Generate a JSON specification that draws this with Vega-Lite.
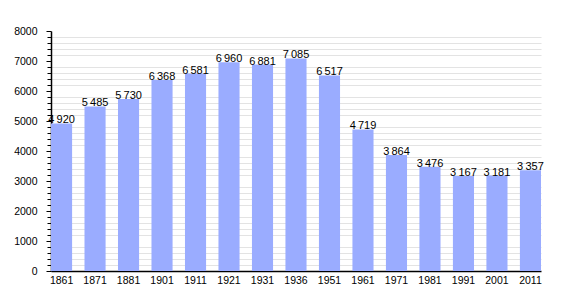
{
  "$schema": "https://vega.github.io/schema/vega-lite/v6.json",
  "autosize": "none",
  "width": 490,
  "height": 240,
  "padding": {"left": 51, "top": 31, "right": 29, "bottom": 29},
  "background": "white",
  "config": {
    "font": "Liberation Sans",
    "view": {"stroke": null},
    "locale": {"number": {"decimal": ",", "thousands": "\u2009", "grouping": [3], "currency": ["", ""]}}
  },
  "data": {"values": [
    {"year": "1861", "pop": 4920},
    {"year": "1871", "pop": 5485},
    {"year": "1881", "pop": 5730},
    {"year": "1901", "pop": 6368},
    {"year": "1911", "pop": 6581},
    {"year": "1921", "pop": 6960},
    {"year": "1931", "pop": 6881},
    {"year": "1936", "pop": 7085},
    {"year": "1951", "pop": 6517},
    {"year": "1961", "pop": 4719},
    {"year": "1971", "pop": 3864},
    {"year": "1981", "pop": 3476},
    {"year": "1991", "pop": 3167},
    {"year": "2001", "pop": 3181},
    {"year": "2011", "pop": 3357}
  ]},
  "resolve": {"axis": {"y": "independent"}},
  "layer": [
    {
      "mark": {"type": "bar", "color": "#9aacff"},
      "encoding": {
        "x": {"field": "year", "type": "ordinal", "sort": null,
          "scale": {"paddingInner": 0.37, "paddingOuter": 0},
          "axis": {"title": null, "labelAngle": 0, "ticks": false, "labelPadding": 4, "labelFontSize": 10.5, "labelColor": "#000", "domainColor": "#000", "domainWidth": 1.5}},
        "y": {"field": "pop", "type": "quantitative",
          "scale": {"domain": [0, 8000], "nice": false},
          "axis": {"orient": "left", "title": null, "labels": false, "domain": false,
            "values": [200,400,600,800,1200,1400,1600,1800,2200,2400,2600,2800,3200,3400,3600,3800,4200,4400,4600,4800,5200,5400,5600,5800,6200,6400,6600,6800,7200,7400,7800,7600],
            "gridColor": "#e3e3e3", "gridOpacity": 1, "tickColor": "#000", "tickSize": 4}}
      }
    },
    {
      "mark": {"type": "text", "baseline": "alphabetic", "align": "center", "fontSize": 11, "color": "#000"},
      "encoding": {
        "x": {"field": "year", "type": "ordinal", "sort": null},
        "y": {"field": "pop", "type": "quantitative",
          "axis": {"orient": "left", "title": null, "format": "d",
            "values": [0,1000,2000,3000,4000,5000,6000,7000,8000],
            "gridColor": "#aaaaaa", "gridOpacity": 1, "tickColor": "#000", "tickSize": 5,
            "labelPadding": 9, "labelFontSize": 10.5, "labelColor": "#000",
            "domainColor": "#000", "domainWidth": 1.5}},
        "text": {"field": "pop", "type": "quantitative", "format": ",d"}
      }
    }
  ]
}
